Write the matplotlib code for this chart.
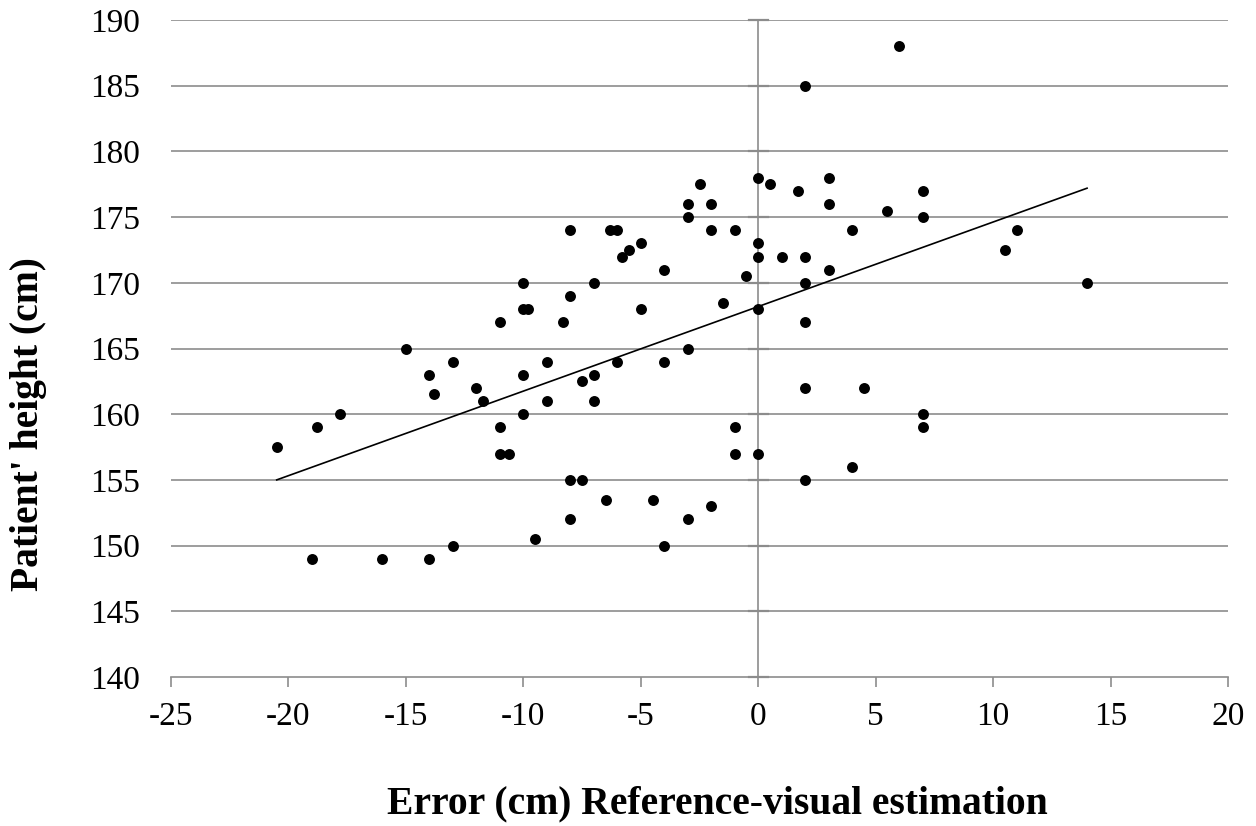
import matplotlib
matplotlib.use("Agg")
import matplotlib.pyplot as plt

plt.rcParams['font.family'] = ['Liberation Serif', 'DejaVu Serif']

# Error (cm) Reference - visual estimation
error_cm = [
    -20.5, -18.8, -17.8, -19, -16, -14, -13,
    -15, -14, -13.8, -13, -12, -11.7,
    -11, -11, -11, -10.6,
    -10, -10, -9.8, -10, -10, -9.5, -9, -9,
    -8.3, -8, -8, -8, -7.5, -8, -7.5,
    -7, -7, -7, -6.5, -6.3, -6, -5.8, -5.5, -5, -5, -6,
    -4.5, -4, -4, -4,
    -3, -3, -3, -3, -2.5, -2, -2, -2,
    -1.5, -1, -1, -1, -0.5,
    0, 0, 0, 0, 0, 0.5, 1, 1.7,
    2, 2, 2, 2, 2, 2,
    3, 3, 3, 4, 4, 4.5, 5.5, 6,
    7, 7, 7, 7, 10.5, 11, 14,
]
# Patient' height (cm)
height_cm = [
    157.5, 159, 160, 149, 149, 149, 150,
    165, 163, 161.5, 164, 162, 161,
    167, 159, 157, 157,
    170, 168, 168, 163, 160, 150.5, 164, 161,
    167, 174, 169, 155, 155, 152, 162.5,
    170, 163, 161, 153.5, 174, 174, 172, 172.5, 173, 168, 164,
    153.5, 171, 164, 150,
    176, 175, 165, 152, 177.5, 176, 174, 153,
    168.5, 174, 159, 157, 170.5,
    178, 173, 172, 168, 157, 177.5, 172, 177,
    185, 172, 170, 167, 162, 155,
    178, 176, 171, 174, 156, 162, 175.5, 188,
    177, 175, 160, 159, 172.5, 174, 170,
]

# Linear trend line
trend_x = [-20.5, 14.0]
trend_y = [155.0, 177.2]

x_ticks = [-25, -20, -15, -10, -5, 0, 5, 10, 15, 20]
y_ticks = [140, 145, 150, 155, 160, 165, 170, 175, 180, 185, 190]

W, H = 1256, 826
fig = plt.figure(figsize=(W / 100, H / 100), dpi=100)
ax = fig.add_axes([171 / W, (H - 677) / H, 1057 / W, 657 / H])

grid_c = '#8c8c8c'
ax.set_xlim(-25, 20)
ax.set_ylim(140, 190)
ax.set_xticks(x_ticks)
ax.set_yticks(y_ticks)
ax.set_xticklabels([str(v) for v in x_ticks])
ax.set_yticklabels([str(v) for v in y_ticks])

for yv in y_ticks[1:]:
    ax.axhline(yv, color=grid_c, lw=1.2, zorder=1)
ax.axvline(0, color=grid_c, lw=1.2, zorder=1)
# small cross tick marks on the vertical axis at x=0
for yv in y_ticks:
    ax.plot([-0.4, 0.4], [yv, yv], color=grid_c, lw=1.6, zorder=1, clip_on=False)

for s in ['top', 'right', 'left']:
    ax.spines[s].set_visible(False)
ax.spines['bottom'].set_color(grid_c)
ax.spines['bottom'].set_linewidth(1.2)

ax.tick_params(axis='x', direction='out', length=7.5, width=1.2, color=grid_c,
               pad=10, labelsize=24)
ax.tick_params(axis='y', length=0, pad=22, labelsize=24)

ax.scatter(error_cm, height_cm, s=62, color='black', zorder=3, linewidths=0)
ax.plot(trend_x, trend_y, color='black', lw=1.2, zorder=2)

fig.text(717 / W, (H - 813) / H, 'Error (cm) Reference-visual estimation',
         ha='center', va='baseline', fontsize=28.5, fontweight='bold')
fig.text(29 / W, 1 - 424 / H, "Patient' height (cm)", rotation=90,
         ha='center', va='center', fontsize=28.5, fontweight='bold')

fig.savefig('out.png', dpi=100, facecolor='white')
